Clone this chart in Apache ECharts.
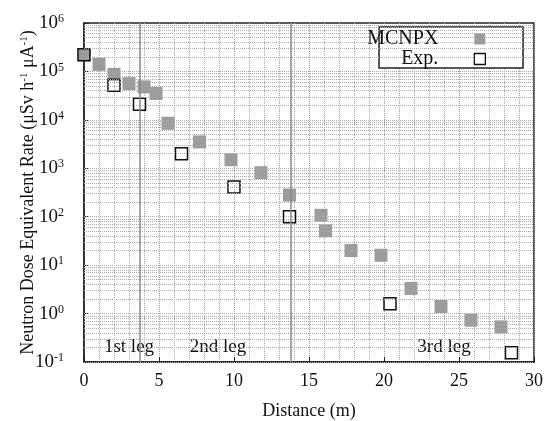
<!DOCTYPE html>
<html><head><meta charset="utf-8">
<script src="https://cdn.jsdelivr.net/npm/echarts@6/dist/echarts.min.js"></script>
<style>html,body{margin:0;padding:0;background:#fff}#c{width:555px;height:421px}</style>
</head><body><div id="c"></div>
<script>
const distMC = [0, 1, 2, 3, 4, 4.8, 5.6, 7.7, 9.8, 11.8, 13.7, 15.8, 16.1, 17.8, 19.8, 21.8, 23.8, 25.8, 27.8];
const doseMC = [2.2e5, 1.4e5, 8.7e4, 5.6e4, 4.8e4, 3.5e4, 8.5e3, 3.5e3, 1.5e3, 810, 280, 107, 51, 20, 16, 3.3, 1.4, 0.73, 0.53];
const distExp = [0, 2, 3.7, 6.5, 10, 13.7, 20.4, 28.5];
const doseExp = [2.2e5, 5.2e4, 2.1e4, 2.0e3, 410, 100, 1.6, 0.155];
const xTicks = [0, 5, 10, 15, 20, 25, 30];
const yExponents = [-1, 0, 1, 2, 3, 4, 5, 6];
const legBounds = [3.7, 13.8];
const legLabels = ['1st leg', '2nd leg', '3rd leg'];

const serif = 'Liberation Serif';
const minorLines = [];
for (let e = yExponents[0]; e < yExponents[yExponents.length - 1]; e++) {
  for (let m = 1; m <= 9; m++) minorLines.push({ yAxis: m * Math.pow(10, e) });
}

const chart = echarts.init(document.getElementById('c'));
chart.setOption({
  animation: false,
  backgroundColor: '#fff',
  grid: { left: 84, right: 21, top: 23, bottom: 59, show: true, borderColor: '#222', borderWidth: 1.5, outerBoundsMode: 'none', containLabel: false },
  xAxis: {
    type: 'value', min: xTicks[0], max: xTicks[xTicks.length - 1], interval: 5,
    name: 'Distance (m)', nameLocation: 'middle', nameGap: 40, nameMoveOverlap: false,
    nameTextStyle: { fontFamily: serif, fontSize: 18, color: '#111' },
    axisLine: { lineStyle: { color: '#222', width: 1.5 } },
    axisTick: { inside: true, length: 5, lineStyle: { color: '#222' } },
    axisLabel: { fontFamily: serif, fontSize: 18, color: '#111', margin: 10 },
    splitLine: { show: true, lineStyle: { color: '#999', type: 'dotted', width: 1 } },
    minorTick: { show: false, splitNumber: 5 },
    minorSplitLine: { show: true, lineStyle: { color: '#aaa', type: 'dotted', width: 1 } }
  },
  yAxis: {
    type: 'log', logBase: 10, min: 0.1, max: 1e6,
    name: '{a|Neutron Dose Equivalent Rate (μSv h}{s|-1}{a| μA}{s|-1}{a|)}',
    nameLocation: 'middle', nameGap: 47, nameMoveOverlap: false,
    nameTextStyle: {
      rich: {
        a: { fontFamily: serif, fontSize: 18, color: '#111' },
        s: { fontFamily: serif, fontSize: 11, color: '#111', verticalAlign: 'top', padding: [0, 0, 7, 0] }
      }
    },
    axisLine: { lineStyle: { color: '#222', width: 1.5 } },
    axisTick: { inside: true, length: 5, lineStyle: { color: '#222' } },
    axisLabel: {
      margin: 20,
      formatter: function (v) {
        const e = Math.round(Math.log10(v));
        return '{b|10}{s|' + e + '}';
      },
      rich: {
        b: { fontFamily: serif, fontSize: 19, color: '#111' },
        s: { fontFamily: serif, fontSize: 12, color: '#111', verticalAlign: 'top', padding: [0, 0, 8, 0] }
      }
    },
    splitLine: { show: false }
  },
  legend: {
    orient: 'vertical', align: 'right', right: 69, top: 29, padding: 0, itemGap: 0,
    itemWidth: 11, itemHeight: 11, z: 6,
    textStyle: { fontFamily: serif, fontSize: 20, color: '#111', padding: [0, 31, 0, 0] },
    data: [
      { name: 'MCNPX', icon: 'rect', itemStyle: { color: '#9c9c9c', borderWidth: 0 } },
      { name: 'Exp.', icon: 'rect', itemStyle: { color: '#fff', borderColor: '#111', borderWidth: 1.3 } }
    ]
  },
  graphic: [
    { type: 'rect', z: 5, shape: { x: 379, y: 27, width: 144, height: 41 }, style: { fill: '#fff', stroke: '#222', lineWidth: 1.5 } },
    { type: 'text', z: 5, x: 129, y: 347, style: { text: legLabels[0], font: '19px "Liberation Serif"', fill: '#111', align: 'center', verticalAlign: 'middle' } },
    { type: 'text', z: 5, x: 218, y: 347, style: { text: legLabels[1], font: '19px "Liberation Serif"', fill: '#111', align: 'center', verticalAlign: 'middle' } },
    { type: 'text', z: 5, x: 444, y: 347, style: { text: legLabels[2], font: '19px "Liberation Serif"', fill: '#111', align: 'center', verticalAlign: 'middle' } }
  ],
  series: [
    {
      name: 'helper', type: 'line', data: [], silent: true, z: 1,
      markLine: {
        silent: true, symbol: 'none', animation: false, label: { show: false },
        lineStyle: { color: '#aaa', type: 'dotted', width: 1 },
        data: minorLines
      }
    },
    {
      name: 'helper2', type: 'line', data: [], silent: true, z: 1,
      markLine: {
        silent: true, symbol: 'none', animation: false, label: { show: false },
        lineStyle: { color: '#888', type: 'solid', width: 1.5 },
        data: legBounds.map(b => ({ xAxis: b }))
      }
    },
    {
      name: 'MCNPX', type: 'scatter', symbol: 'rect', symbolSize: 13, z: 3,
      itemStyle: { color: '#9c9c9c', opacity: 1 },
      data: distMC.map((d, i) => [d, doseMC[i]])
    },
    {
      name: 'Exp.', type: 'scatter', symbol: 'rect', symbolSize: 12, z: 4,
      itemStyle: { color: 'rgba(255,255,255,0)', borderColor: '#111', borderWidth: 1.5, opacity: 1 },
      data: distExp.map((d, i) => [d, doseExp[i]])
    }
  ]
});
</script></body></html>
